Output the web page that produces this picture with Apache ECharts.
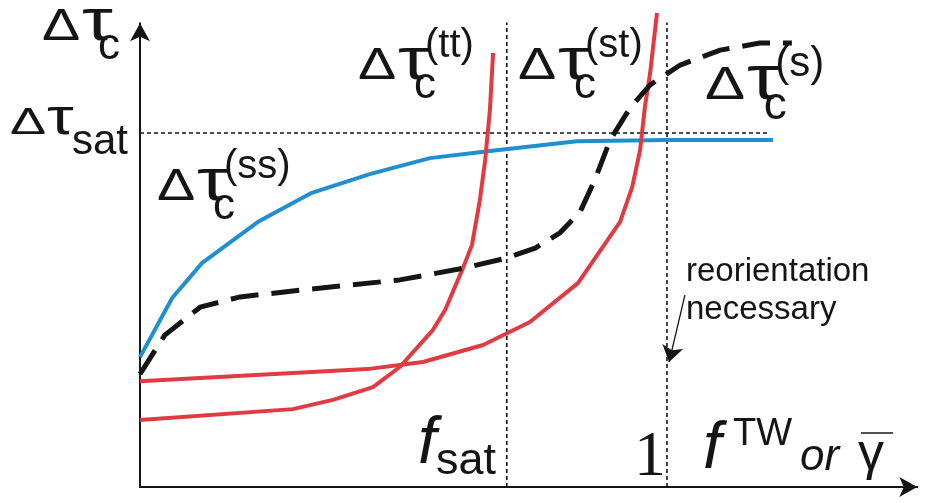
<!DOCTYPE html>
<html>
<head>
<meta charset="utf-8">
<script src="https://cdn.jsdelivr.net/npm/echarts@6/dist/echarts.min.js"></script>
<style>
  html, body { margin: 0; padding: 0; background: #fff; }
  #chart { width: 928px; height: 503px; }
</style>
</head>
<body>
<div id="chart"></div>
<script>
// Critical stress increment versus twinned fraction f^TW (or mean shear),
// with the saturation level and the saturation fraction f_sat marked.

// Δτc(ss): rises quickly, then levels off just under Δτsat
const tauSS = [
  [0, 0.367], [0.061, 0.534], [0.118, 0.633], [0.224, 0.749], [0.326, 0.831],
  [0.436, 0.884], [0.550, 0.929], [0.664, 0.949], [0.829, 0.977], [1.0, 0.980],
  [1.201, 0.980]
];
// Δτc(s): plateau, then a steep rise around f = 0.85 and a new plateau
const tauS = [
  [0, 0.319], [0.047, 0.429], [0.114, 0.508], [0.190, 0.537], [0.304, 0.556],
  [0.493, 0.585], [0.617, 0.619], [0.696, 0.647], [0.750, 0.675], [0.797, 0.718],
  [0.835, 0.777], [0.863, 0.867], [0.892, 0.980], [0.930, 1.071], [0.968, 1.136],
  [1.025, 1.192], [1.101, 1.234], [1.176, 1.254], [1.237, 1.254]
];
// Δτc(tt): diverges at f_sat
const tauTT = [
  [0, 0.189], [0.290, 0.220], [0.366, 0.246], [0.442, 0.282], [0.493, 0.339],
  [0.556, 0.444], [0.579, 0.500], [0.613, 0.619], [0.630, 0.684], [0.645, 0.811],
  [0.655, 0.924], [0.664, 1.065], [0.670, 1.226]
];
// Δτc(st): diverges at f = 1
const tauST = [
  [0, 0.299], [0.431, 0.333], [0.537, 0.353], [0.651, 0.401], [0.740, 0.466],
  [0.831, 0.576], [0.911, 0.749], [0.934, 0.847], [0.949, 0.952], [0.958, 1.073],
  [0.968, 1.169], [0.981, 1.339]
];

// guide lines
const satLevel = [[0, 1], [1.19, 1]];
const fSatLine = [[0.696, 0], [0.696, 1.328]];
const unitLine = [[1, 0], [1, 1.339]];
// pointer for the "reorientation necessary" note
const noteArrow = [[1.034, 0.542], [1.004, 0.353]];

const SANS = '"Liberation Sans", Arial, sans-serif';
const SERIF = '"Liberation Serif", "Times New Roman", serif';
const INK = '#151515';
const RED = '#e03a42';
const BLUE = '#1f8fcf';

// text placed by its left edge and alphabetic baseline
function txt(str, x, base, size, opt) {
  opt = opt || {};
  const fam = opt.serif ? SERIF : SANS;
  const mid = opt.serif ? 0.3375 : 0.3465;
  return {
    type: 'text',
    silent: true,
    x: x,
    y: base - mid * size,
    scaleX: opt.sx || 1,
    style: {
      text: str,
      font: (opt.italic ? 'italic ' : '') + size + 'px ' + fam,
      fill: INK,
      textAlign: 'left',
      textVerticalAlign: 'middle',
      align: 'left',
      verticalAlign: 'middle'
    }
  };
}

// Δτ with subscript and optional superscript, anchored at the Δ
function deltaTau(x, base, sub, sup, k) {
  k = k || 1;
  const els = [
    txt('Δ', x, base, 44 * k, { sx: 1.3 }),
    txt('τ', x + 40 * k, base + 1, 60 * k, { sx: 1.3 }),
    txt(sub, x + 56 * k, base + 19 * k, 44 * k)
  ];
  if (sup) els.push(txt(sup, x + 67 * k, base - 22 * k, 40 * k));
  return els;
}

function guide(data) {
  return {
    type: 'line', data: data, symbol: 'none', silent: true, z: 1,
    lineStyle: { color: INK, width: 1.6, type: [4, 3] }
  };
}

function curve(data, color, width, dash, z) {
  return {
    type: 'line', data: data, symbol: 'none', smooth: false, silent: true,
    clip: false, z: z,
    lineStyle: { color: color, width: width, type: dash || 'solid', cap: 'butt', join: 'round' }
  };
}

const graphics = [].concat(
  deltaTau(42, 43, 'c'),
  [
    txt('Δ', 10, 137, 36, { sx: 1.5 }),
    txt('τ', 47, 138, 52, { sx: 1.3 }),
    txt('sat', 72, 157, 42)
  ],
  deltaTau(157, 203, 'c', '(ss)'),
  deltaTau(358, 82, 'c', '(tt)'),
  deltaTau(518, 82, 'c', '(st)'),
  deltaTau(705, 102, 'c', '(s)', 1.05),
  [
    txt('f', 418, 468, 66, { italic: true }),
    txt('sat', 436, 477, 45),
    txt('1', 634, 480, 64, { serif: true }),
    txt('f', 703, 473, 66, { italic: true }),
    txt('TW', 733, 448, 38),
    txt('or', 800, 473, 44, { italic: true }),
    txt('γ', 858, 473, 52),
    {
      type: 'line', silent: true,
      shape: { x1: 861, y1: 433, x2: 893, y2: 433 },
      style: { stroke: INK, lineWidth: 1.5 }
    },
    txt('reorientation', 686, 283, 33),
    txt('necessary', 686, 321, 33)
  ]
);

const chart = echarts.init(document.getElementById('chart'), null, { renderer: 'canvas' });
chart.setOption({
  animation: false,
  backgroundColor: '#ffffff',
  grid: { left: 140, right: 10.7, top: 23.26, bottom: 16, containLabel: false },
  xAxis: {
    type: 'value', min: 0, max: 1.475,
    axisLine: {
      show: true, onZero: false,
      symbol: ['none', 'arrow'], symbolSize: [15, 18],
      lineStyle: { color: INK, width: 2 }
    },
    axisTick: { show: false }, axisLabel: { show: false }, splitLine: { show: false }
  },
  yAxis: {
    type: 'value', min: 0, max: 1.31,
    axisLine: {
      show: true, onZero: false,
      symbol: ['none', 'arrow'], symbolSize: [15, 18],
      lineStyle: { color: INK, width: 2 }
    },
    axisTick: { show: false }, axisLabel: { show: false }, splitLine: { show: false }
  },
  series: [
    guide(satLevel),
    guide(fSatLine),
    Object.assign(guide(unitLine), {
      markLine: {
        silent: true,
        symbol: ['none', 'arrow'],
        symbolSize: 16,
        label: { show: false },
        lineStyle: { color: INK, width: 1.3, type: 'solid' },
        data: [[{ coord: noteArrow[0] }, { coord: noteArrow[1] }]]
      }
    }),
    curve(tauSS, BLUE, 4, null, 3),
    curve(tauTT, RED, 4, null, 4),
    curve(tauST, RED, 4, null, 4),
    curve(tauS, INK, 5, [28, 13], 5)
  ],
  graphic: graphics
});
</script>
</body>
</html>
